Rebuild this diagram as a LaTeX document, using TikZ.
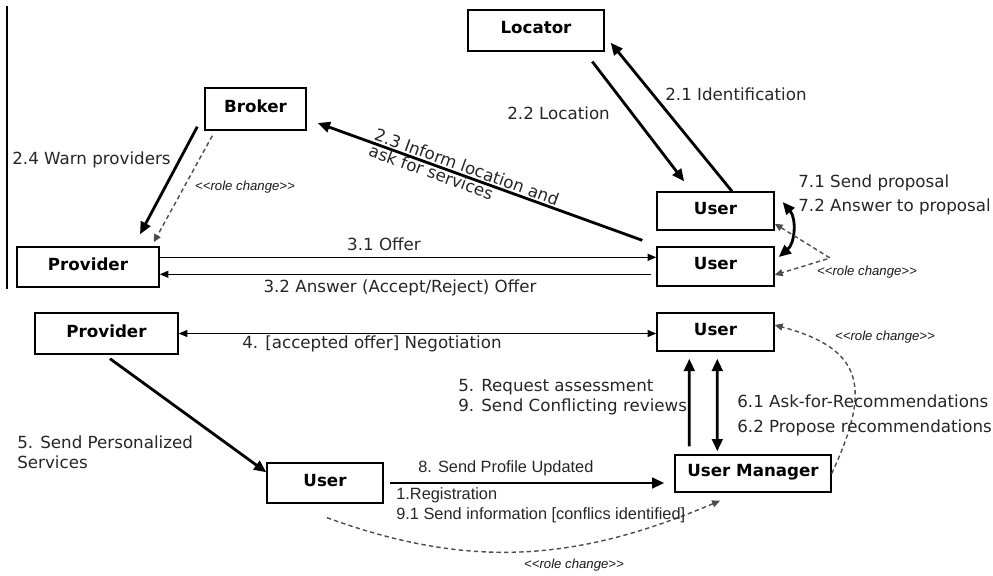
\documentclass[tikz,border=0pt]{standalone}
\usepackage{fontspec}
\setmainfont{DejaVu Sans}
\newfontfamily\arialfont{Liberation Sans}
\usepackage{tikz}
\usetikzlibrary{arrows.meta}
\tikzstyle{box} = [draw,line width=0.8pt,inner sep=0pt,text depth=3pt,font=\fontsize{9.5}{11}\selectfont\bfseries]
\tikzstyle{hi} = [draw,line width=1.6pt,>={Triangle[length=7pt,width=6pt]}]
\tikzstyle{lo} = [draw,line width=0.8pt,>={Triangle[length=5pt,width=4pt]}]
\tikzstyle{rolechg} = [draw,black!70,line width=0.8pt,dash pattern=on 2.5pt off 1.8pt,>={Triangle[length=4.5pt,width=4pt]}]
\tikzstyle{lbl} = [inner sep=0pt,text=black!85,font=\fontsize{9.5}{11.4}\selectfont]
\tikzstyle{rc} = [inner sep=0pt,text=black!90,font=\arialfont\itshape\fontsize{7.5}{9}\selectfont]

\begin{document}
\begin{tikzpicture}[x=0.02cm,y=-0.02cm]
    \useasboundingbox (0,0) rectangle (993,575);
    \draw[line width=0.8pt] (7,6) -- (7,289);

    % actors
    \node[box,minimum width=2.72cm,minimum height=0.82cm] (Locator) at (536,30.5) {Locator};
    \node[box,minimum width=2.02cm,minimum height=0.84cm] (Broker) at (255.5,109) {Broker};
    \node[box,minimum width=2.84cm,minimum height=0.8cm] (Provider1) at (88,267) {Provider};
    \node[box,minimum width=2.34cm,minimum height=0.76cm] (User1) at (715.5,211) {User};
    \node[box,minimum width=2.34cm,minimum height=0.78cm] (User2) at (715.5,266.5) {User};
    \node[box,minimum width=2.86cm,minimum height=0.82cm] (Provider2) at (106.5,333.5) {Provider};
    \node[box,minimum width=2.34cm,minimum height=0.76cm] (User3) at (715.5,332) {User};
    \node[box,minimum width=2.32cm,minimum height=0.8cm] (User4) at (325,483) {User};
    \node[box,minimum width=3.12cm,minimum height=0.74cm] (UserMgr) at (753,473.5) {User Manager};
    \coordinate (rcPt) at (830,258);

    % messages
    \draw[hi,->,shorten <=0.25cm,shorten >=0.25cm] ([xshift=-0.4cm]Locator.south east) -- ([xshift=0.71cm]User1.north west);
    \draw[hi,->] ([xshift=0.33cm]User1.north) -- ([xshift=0.12cm,yshift=0.18cm]Locator.south east);
    \draw[hi,->] ([xshift=-0.28cm,yshift=0.12cm]User2.north west) -- node[lbl,sloped,pos=0.55,yshift=0.5pt,align=left,font=\fontsize{9.5}{9.6}\selectfont] (lblInform) {2.3 Inform location and\\ask for services} ([xshift=0.22cm,yshift=-0.28cm]Broker.east);
    \draw[hi,->] ([xshift=-0.14cm,yshift=0.08cm]Broker.south west) -- ([xshift=1.04cm,yshift=0.24cm]Provider1.north);
    \draw[rolechg,->] ([xshift=0.16cm,yshift=-0.1cm]Broker.south west) -- ([xshift=-0.12cm,yshift=0.08cm]Provider1.north east);
    \draw[lo,->] ([yshift=-0.22cm]Provider1.north east) -- ([yshift=-0.22cm]User2.north west);
    \draw[lo,->,shorten <=0.1cm] ([yshift=-0.56cm]User2.north west) -- ([yshift=-0.56cm]Provider1.north east);
    \draw[hi,<->] ([xshift=0.16cm,yshift=0.18cm]User1.east) to[out=-50,in=40] ([xshift=0.08cm,yshift=0.19cm]User2.east);
    \draw[rolechg,<->] ([yshift=0.14cm]User1.south east) -- (rcPt) -- ([yshift=-0.17cm]User2.east);
    \draw[lo,<->] (Provider2.east) -- (Provider2.east -| User3.west);
    \draw[hi,->] ([xshift=0.07cm,yshift=-0.08cm]Provider2.south) -- ([yshift=-0.2cm]User4.north west);
    \draw[hi,->,shorten <=0.12cm,shorten >=0.2cm] (User4.east) -- (User4.east -| UserMgr.west);
    \draw[hi,->,shorten <=0.16cm,shorten >=0.14cm] ([xshift=0.3cm]UserMgr.north west) -- ([xshift=0.66cm]User3.south west);
    \draw[hi,<->,shorten <=0.14cm,shorten >=0.06cm] ([xshift=1.22cm]User3.south west) -- ([xshift=0.86cm]UserMgr.north west);
    \draw[rolechg,->] (UserMgr.east) to[out=65,in=-15,looseness=1.5] ([yshift=0.14cm]User3.east);
    \draw[rolechg,->] ([xshift=0.04cm,yshift=-0.28cm]User4.south) to[out=-20,in=203] ([xshift=-0.66cm,yshift=-0.16cm]UserMgr.south);

    % labels
    \node[lbl,anchor=west] (lblLoc) at (507,113) {2.2 Location};
    \node[lbl,anchor=west] (lblIdent) at (665,94) {2.1 Identification};
    \node[lbl,anchor=west] (lblWarn) at (12,160) {2.4 Warn providers};
    \node[lbl] (lblOffer) at (384,244) {3.1 Offer};
    \node[lbl] (lblAnswer) at (400,288) {3.2 Answer (Accept/Reject) Offer};
    \node[lbl,anchor=west] (lblNeg) at (242,344) {4. [accepted offer] Negotiation};
    \node[lbl,anchor=west,align=left] (lblReq) at (458,397) {5. Request assessment\\9. Send Conflicting reviews};
    \node[lbl,anchor=west,align=left,font=\fontsize{9.5}{14}\selectfont] (lblRec) at (737,415.5) {6.1 Ask-for-Recommendations\\6.2 Propose recommendations};
    \node[lbl,anchor=west,align=left,font=\fontsize{9.5}{13.7}\selectfont] (lblProp) at (798,195) {7.1 Send proposal\\7.2 Answer to proposal};
    \node[lbl,anchor=west,align=left] (lblPers) at (17,452) {5. Send Personalized\\Services};
    \node[lbl,anchor=west,font=\arialfont\fontsize{9.3}{11.4}\selectfont] (lblProf) at (418,468) {8. Send Profile Updated};
    \node[lbl,anchor=west,align=left,font=\arialfont\fontsize{9.3}{11.4}\selectfont] (lblReg) at (396,505) {1.Registration\\9.1 Send information [conflics identified]};
    \node[rc] (rcBroker) at (245,187) {<<role change>>};
    \node[rc] (rcUser) at (867,272) {<<role change>>};
    \node[rc] (rcMgr) at (885,337) {<<role change>>};
    \node[rc] (rcBottom) at (574,565) {<<role change>>};
\end{tikzpicture}
\end{document}
